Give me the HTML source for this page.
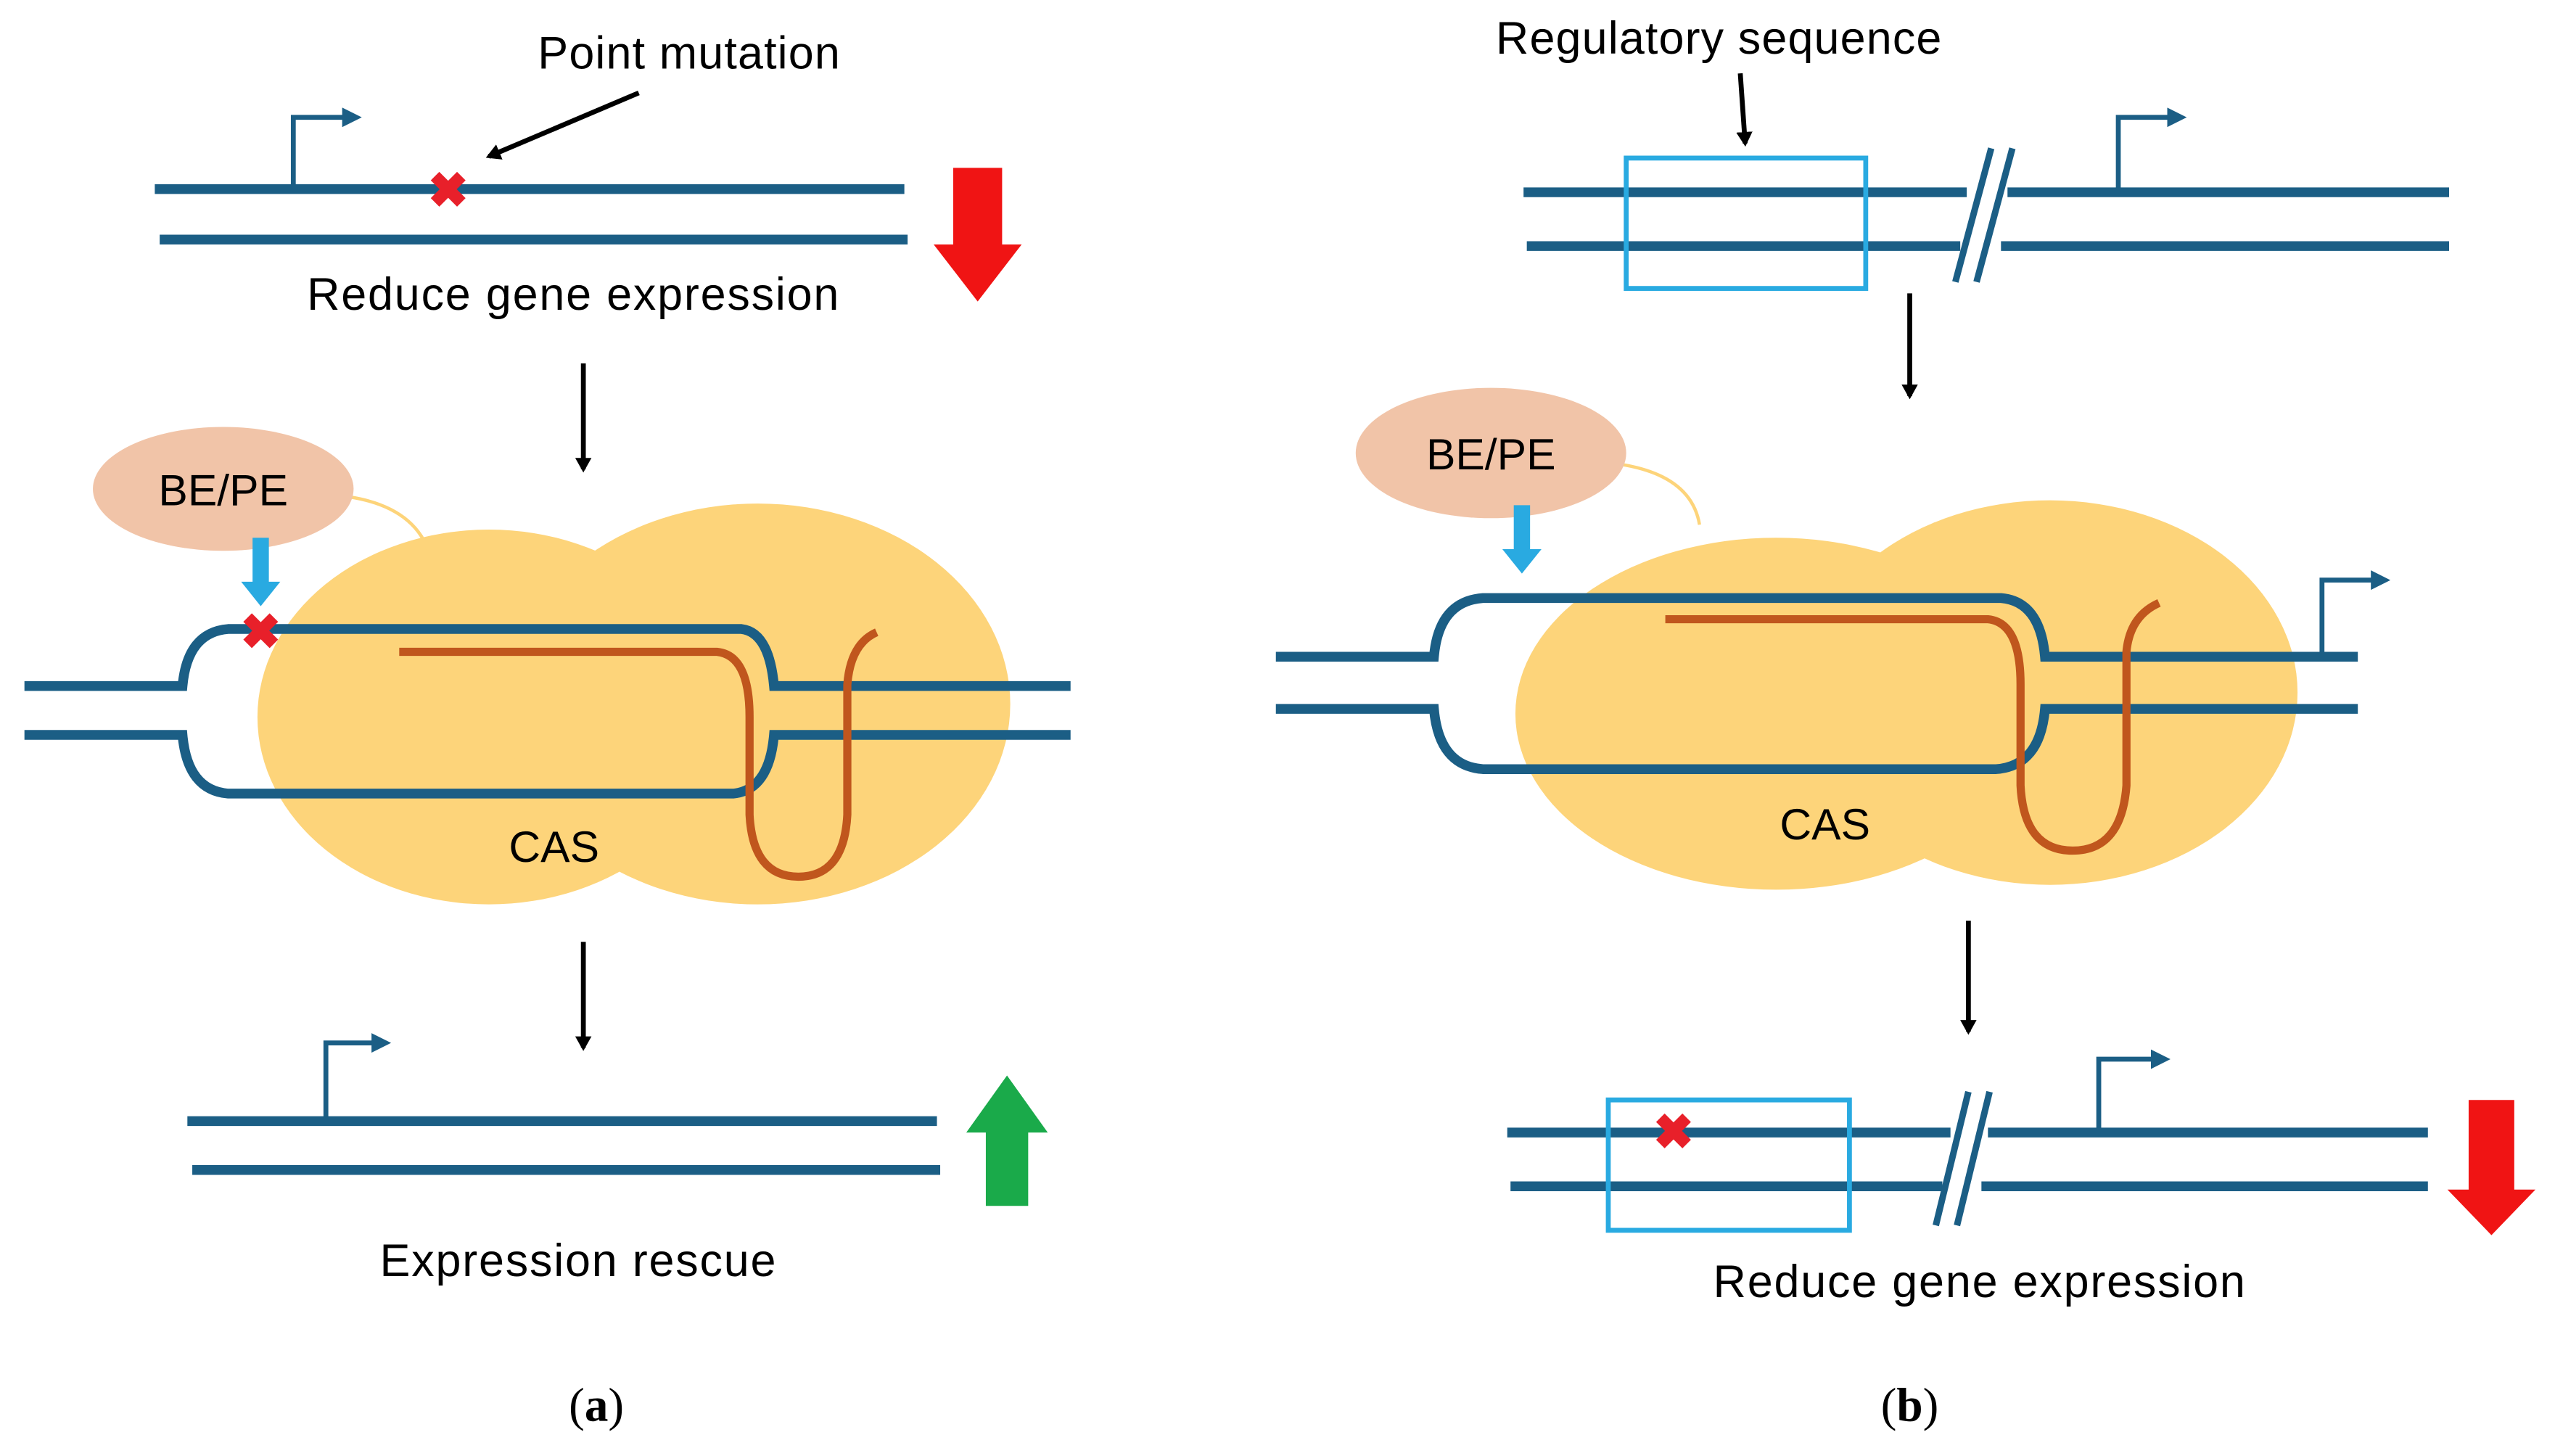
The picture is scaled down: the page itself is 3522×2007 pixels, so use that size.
<!DOCTYPE html>
<html><head><style>html,body{margin:0;padding:0;background:#fff}svg{display:block}</style></head><body>
<svg width="3522" height="2007" viewBox="0 0 1568 893.5" xmlns="http://www.w3.org/2000/svg" font-family="Liberation Sans, sans-serif">
<defs>
<marker id="ah" markerWidth="9" markerHeight="10" refX="7" refY="5" orient="auto" markerUnits="userSpaceOnUse"><path d="M0,0 L9,5 L0,10 Z" fill="#000"/></marker>
<marker id="ph" markerWidth="12" markerHeight="12" refX="8" refY="6" orient="auto" markerUnits="userSpaceOnUse"><path d="M0,0 L12,6 L0,12 Z" fill="#1b5e85"/></marker>
</defs>
<g stroke="#1b5e85" stroke-width="6" fill="none">
<line x1="95" y1="116" x2="555" y2="116"/><line x1="98" y1="147" x2="557" y2="147"/>
</g>
<g stroke="#1b5e85" stroke-width="3" fill="none">
<path d="M180 114 V72 H218" marker-end="url(#ph)"/>
<path d="M200 686 V640 H236" marker-end="url(#ph)"/>
<path d="M1300 116 V72 H1338" marker-end="url(#ph)"/>
<path d="M1425 401 V356 H1463" marker-end="url(#ph)"/>
<path d="M1288 693 V650 H1328" marker-end="url(#ph)"/>
</g>
<text x="275" y="127" font-size="30" fill="#e8202a" text-anchor="middle" font-weight="bold">✖</text>
<text x="423" y="42" font-size="28" text-anchor="middle" letter-spacing="0.5">Point mutation</text>
<line x1="392" y1="57" x2="300" y2="96" stroke="#000" stroke-width="3" marker-end="url(#ah)"/>
<path d="M585 103 H615 V150 H627 L600 185 L573 150 H585 Z" fill="#f01414"/>
<text x="352" y="190" font-size="28" text-anchor="middle" letter-spacing="0.8">Reduce gene expression</text>
<line x1="358" y1="223" x2="358" y2="288" stroke="#000" stroke-width="3" marker-end="url(#ah)"/>
<ellipse cx="300" cy="440" rx="142" ry="115" fill="#fdd47a"/>
<ellipse cx="465" cy="432" rx="155" ry="123" fill="#fdd47a"/>
<path d="M215 305 Q258 312 265 345" stroke="#fdd47a" stroke-width="2" fill="none"/>
<ellipse cx="137" cy="300" rx="80" ry="38" fill="#f1c4a8"/>
<text x="137" y="310" font-size="27" text-anchor="middle">BE/PE</text>
<path d="M155 330 H165 V357 H172 L160 372 L148 357 H155 Z" fill="#29aae1"/>
<g stroke="#1b5e85" stroke-width="6" fill="none">
<path d="M15 421 H112 Q115 388 140 386 H455 Q472 388 475 421 H657"/>
<path d="M15 451 H112 Q115 485 140 487 H450 Q472 485 475 451 H657"/>
</g>
<path d="M245 400 H440 Q460 402 460 440 V500 Q462 538 490 538 Q518 538 520 500 V420 Q522 395 538 388" stroke="#c0561d" stroke-width="5" fill="none"/>
<text x="160" y="398" font-size="30" fill="#e8202a" text-anchor="middle" font-weight="bold">✖</text>
<text x="340" y="529" font-size="27" text-anchor="middle">CAS</text>
<line x1="358" y1="578" x2="358" y2="643" stroke="#000" stroke-width="3" marker-end="url(#ah)"/>
<g stroke="#1b5e85" stroke-width="6"><line x1="115" y1="688" x2="575" y2="688"/><line x1="118" y1="718" x2="577" y2="718"/></g>
<path d="M605 740 H631 V695 H643 L618 660 L593 695 H605 Z" fill="#1aaa4a"/>
<text x="355" y="783" font-size="28" text-anchor="middle" letter-spacing="0.8">Expression rescue</text>
<text x="366" y="872" font-size="29" text-anchor="middle" font-family="Liberation Serif, serif">(<tspan font-weight="bold">a</tspan>)</text>

<text x="1055" y="33" font-size="28" text-anchor="middle" letter-spacing="0.5">Regulatory sequence</text>
<line x1="1068" y1="45" x2="1071" y2="88" stroke="#000" stroke-width="3" marker-end="url(#ah)"/>
<g stroke="#1b5e85" stroke-width="6">
<line x1="935" y1="118" x2="1207" y2="118"/><line x1="937" y1="151" x2="1203" y2="151"/>
<line x1="1232" y1="118" x2="1503" y2="118"/><line x1="1228" y1="151" x2="1503" y2="151"/>
</g>
<g stroke="#1b5e85" stroke-width="4"><line x1="1200" y1="173" x2="1222" y2="91"/><line x1="1213" y1="173" x2="1235" y2="91"/></g>
<rect x="998" y="97" width="147" height="80" fill="none" stroke="#29aae1" stroke-width="3"/>
<line x1="1172" y1="180" x2="1172" y2="243" stroke="#000" stroke-width="3" marker-end="url(#ah)"/>
<ellipse cx="1090" cy="438" rx="160" ry="108" fill="#fdd47a"/>
<ellipse cx="1258" cy="425" rx="152" ry="118" fill="#fdd47a"/>
<path d="M995 285 Q1038 292 1043 322" stroke="#fdd47a" stroke-width="2" fill="none"/>
<ellipse cx="915" cy="278" rx="83" ry="40" fill="#f1c4a8"/>
<text x="915" y="288" font-size="27" text-anchor="middle">BE/PE</text>
<path d="M929 310 H939 V337 H946 L934 352 L922 337 H929 Z" fill="#29aae1"/>
<g stroke="#1b5e85" stroke-width="6" fill="none">
<path d="M783 403 H880 Q883 369 910 367 H1228 Q1252 369 1255 403 H1447"/>
<path d="M783 435 H880 Q883 470 910 472 H1225 Q1252 470 1255 435 H1447"/>
</g>
<path d="M1022 380 H1220 Q1240 382 1240 420 V482 Q1242 522 1272 522 Q1302 522 1305 482 V400 Q1307 378 1325 370" stroke="#c0561d" stroke-width="5" fill="none"/>
<text x="1120" y="515" font-size="27" text-anchor="middle">CAS</text>
<line x1="1208" y1="565" x2="1208" y2="633" stroke="#000" stroke-width="3" marker-end="url(#ah)"/>
<g stroke="#1b5e85" stroke-width="6">
<line x1="925" y1="695" x2="1197" y2="695"/><line x1="927" y1="728" x2="1192" y2="728"/>
<line x1="1220" y1="695" x2="1490" y2="695"/><line x1="1216" y1="728" x2="1490" y2="728"/>
</g>
<g stroke="#1b5e85" stroke-width="4"><line x1="1188" y1="752" x2="1208" y2="670"/><line x1="1201" y1="752" x2="1221" y2="670"/></g>
<rect x="987" y="675" width="148" height="80" fill="none" stroke="#29aae1" stroke-width="3"/>
<text x="1027" y="705" font-size="30" fill="#e8202a" text-anchor="middle" font-weight="bold">✖</text>
<path d="M1515 675 H1543 V730 H1556 L1529 758 L1502 730 H1515 Z" fill="#f01414"/>
<text x="1215" y="796" font-size="28" text-anchor="middle" letter-spacing="0.8">Reduce gene expression</text>
<text x="1172" y="872" font-size="29" text-anchor="middle" font-family="Liberation Serif, serif">(<tspan font-weight="bold">b</tspan>)</text>
</svg>
</body></html>
